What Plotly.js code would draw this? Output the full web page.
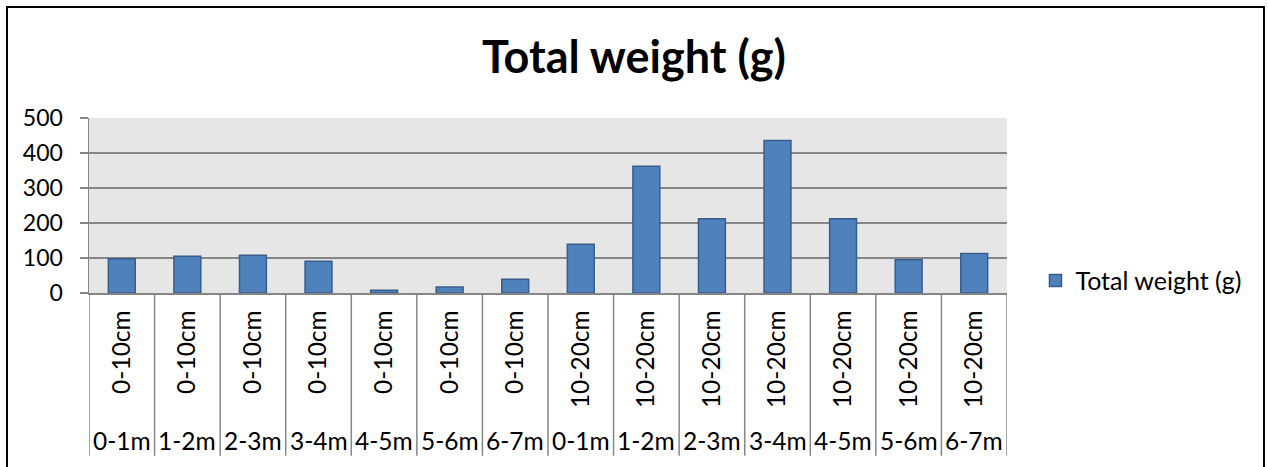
<!DOCTYPE html>
<html>
<head>
<meta charset="utf-8">
<script src="https://cdn.plot.ly/plotly-3.0.1.min.js"></script>
<style>
  html, body { margin: 0; padding: 0; background: #fff; }
  #frame { position: absolute; left: 6px; top: 6px; width: 1259px; height: 470px; border: 2px solid #000; box-sizing: border-box; }
  #chart { position: absolute; left: 0; top: 0; width: 1268px; height: 467px; }
</style>
</head>
<body>
<div id="chart"></div>
<div id="frame"></div>
<script>
// Data
const depthLabels = ["0-10cm","0-10cm","0-10cm","0-10cm","0-10cm","0-10cm","0-10cm",
                     "10-20cm","10-20cm","10-20cm","10-20cm","10-20cm","10-20cm","10-20cm"];
const distanceLabels = ["0-1m","1-2m","2-3m","3-4m","4-5m","5-6m","6-7m",
                        "0-1m","1-2m","2-3m","3-4m","4-5m","5-6m","6-7m"];
const totalWeight = [98, 105, 108, 91, 8, 17, 39, 139, 362, 212, 436, 212, 95, 113];
const seriesName = "Total weight (g)";
const chartTitle = "Total weight (g)";

const FONT = "Lato, 'Liberation Sans', sans-serif";
const positions = totalWeight.map((_, i) => i);

const trace = {
  type: "bar",
  x: positions,
  y: totalWeight,
  name: seriesName,
  showlegend: true,
  marker: { color: "#4F81BD", line: { color: "#385D8A", width: 1.5 } },
  width: 0.41,
  hoverinfo: "y"
};

const shapes = [];
for (let i = 0; i <= positions.length; i++) {
  shapes.push({
    type: "line", xref: "x", yref: "paper",
    x0: i - 0.5, x1: i - 0.5, y0: 0, y1: -0.93,
    line: { color: "#868686", width: 1.5 }, layer: "above"
  });
}

const annotations = distanceLabels.map((t, i) => ({
  x: i, xref: "x", y: -0.84, yref: "paper",
  text: t, showarrow: false, xanchor: "center", yanchor: "middle",
  font: { family: FONT, size: 24.5, color: "#000" }
}));

const layout = {
  width: 1268, height: 467,
  margin: { l: 89, r: 261, t: 118, b: 174, pad: 0 },
  paper_bgcolor: "#ffffff",
  plot_bgcolor: "#E6E6E6",
  font: { family: FONT, size: 22, color: "#000" },
  title: {
    text: "<b>" + chartTitle + "</b>",
    font: { family: FONT, size: 45, color: "#000" },
    x: 0.5, xanchor: "center", y: 0.878, yanchor: "middle"
  },
  xaxis: {
    range: [-0.5, positions.length - 0.5],
    tickvals: positions, ticktext: depthLabels,
    tickangle: -90, ticks: "", ticklabelstandoff: 6,
    showgrid: false, zeroline: false,
    showline: true, linecolor: "#868686", linewidth: 1.5,
    tickfont: { family: FONT, size: 24.5, color: "#000" },
    fixedrange: true
  },
  yaxis: {
    range: [0, 500], dtick: 100, tick0: 0,
    ticks: "outside", ticklen: 8, tickcolor: "#868686", tickwidth: 1.5,
    ticklabelstandoff: 12,
    showgrid: true, gridcolor: "#868686", gridwidth: 1.5,
    zeroline: false, showline: true, linecolor: "#868686", linewidth: 1.5,
    tickfont: { family: FONT, size: 23, color: "#000" },
    fixedrange: true
  },
  legend: {
    x: 1.031, xanchor: "left", y: 0.07, yanchor: "middle",
    font: { family: FONT, size: 25, color: "#000" },
    bgcolor: "rgba(0,0,0,0)", itemwidth: 30, tracegroupgap: 0
  },
  shapes: shapes,
  annotations: annotations,
  bargap: 0.59
};

Plotly.newPlot("chart", [trace], layout, { displayModeBar: false, staticPlot: true });
</script>
</body>
</html>
